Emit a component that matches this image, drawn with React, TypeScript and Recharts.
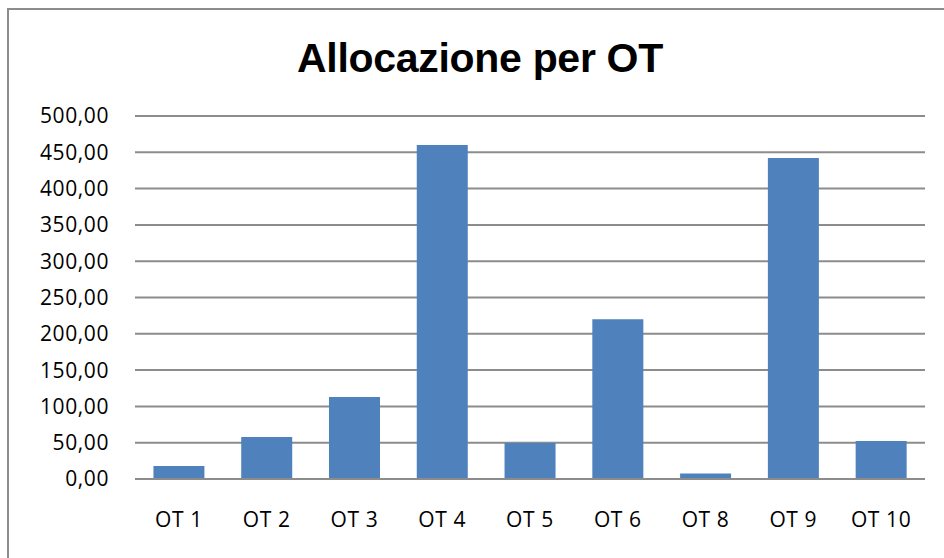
import { Bar, BarChart, CartesianGrid, XAxis, YAxis } from "recharts"

const categories = ["OT 1", "OT 2", "OT 3", "OT 4", "OT 5", "OT 6", "OT 8", "OT 9", "OT 10"]
const allocations = [18, 58, 113, 460, 49.5, 220, 7.5, 442, 52.5]
const yTicks = [0, 50, 100, 150, 200, 250, 300, 350, 400, 450, 500]

const data = categories.map((name, i) => ({ name, value: allocations[i] }))

const formatTick = (value: number) => value.toFixed(2).replace(".", ",")

const tickStyle = { fontFamily: "Open Sans", fontSize: 21, fill: "#000", letterSpacing: 0.6 }

export default function App() {
  return (
    <div
      style={{
        position: "absolute",
        left: 0,
        top: 0,
        width: 944,
        height: 558,
        overflow: "hidden",
        background: "#fff",
      }}
    >
      <div
        style={{
          position: "absolute",
          left: 7,
          top: 8,
          width: 960,
          height: 600,
          borderLeft: "2px solid #8c8c8c",
          borderTop: "2px solid #8c8c8c",
        }}
      />
      <div
        style={{
          position: "absolute",
          left: 0,
          top: 34,
          width: 960,
          textAlign: "center",
          fontFamily: "Liberation Sans",
          fontWeight: "bold",
          fontSize: 41,
          lineHeight: "48px",
          letterSpacing: -0.3,
        }}
      >
        Allocazione per OT
      </div>
      <BarChart
        width={944}
        height={558}
        data={data}
        margin={{ top: 116, right: 19, bottom: 49, left: 75 }}
        barCategoryGap="21%"
        style={{ position: "absolute", left: 0, top: 0 }}
      >
        <CartesianGrid vertical={false} stroke="#8c8c8c" strokeWidth={2} />
        <XAxis
          dataKey="name"
          height={30}
          tickLine={false}
          axisLine={{ stroke: "#8c8c8c", strokeWidth: 2 }}
          tickSize={0}
          tickMargin={33}
          tick={tickStyle}
          interval={0}
        />
        <YAxis
          width={60}
          domain={[0, 500]}
          ticks={yTicks}
          tickFormatter={formatTick}
          tickLine={false}
          axisLine={false}
          tickSize={0}
          tickMargin={26}
          tick={tickStyle}
          interval={0}
        />
        <Bar dataKey="value" fill="#4F81BD" isAnimationActive={false} />
      </BarChart>
    </div>
  )
}
